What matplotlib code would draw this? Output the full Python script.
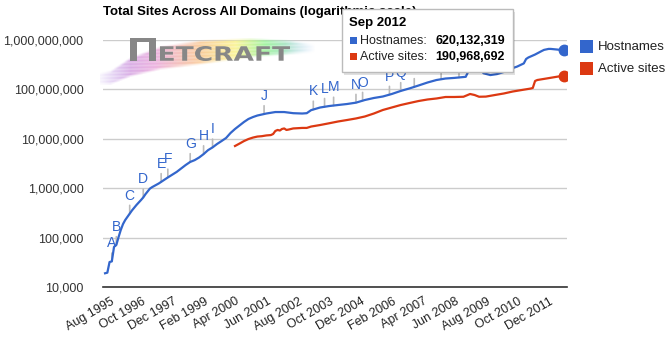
import numpy as np
import matplotlib
matplotlib.use('Agg')
import matplotlib.pyplot as plt
from matplotlib.textpath import TextPath
from matplotlib.font_manager import FontProperties
from matplotlib.patches import PathPatch, Rectangle
from matplotlib.transforms import Affine2D, ScaledTranslation

plt.rcParams['font.family'] = ['Liberation Sans', 'DejaVu Sans']

# ---- data ----
host_months = ['1995-08', '1995-09', '1995-10', '1995-11', '1995-12', '1996-01', '1996-02',
               '1996-03', '1996-04', '1996-05', '1996-06', '1996-08', '1996-10', '1996-12',
               '1997-01', '1997-02', '1997-04', '1997-05', '1997-08', '1997-12', '1998-04',
               '1998-08', '1998-10', '1998-12', '1999-02', '1999-04', '1999-06', '1999-08',
               '1999-10', '1999-12', '2000-02', '2000-04', '2000-06', '2000-08', '2000-10',
               '2000-12', '2001-02', '2001-04', '2001-08', '2001-12', '2002-04', '2002-08',
               '2002-12', '2003-02', '2003-04', '2003-08', '2003-12', '2004-04', '2004-08',
               '2004-12', '2005-04', '2005-08', '2005-12', '2006-04', '2006-08', '2006-12',
               '2007-04', '2007-08', '2007-12', '2008-04', '2008-08', '2008-12', '2009-01',
               '2009-02', '2009-04', '2009-08', '2009-09', '2009-12', '2010-03', '2010-06',
               '2010-10', '2010-12', '2011-03', '2011-04', '2011-05', '2011-08', '2011-11',
               '2011-12', '2012-02', '2012-03', '2012-09']
host_values = [18957, 19500, 32000, 33000, 65000, 71000, 103000,
               142000, 188000, 227000, 264000, 355000, 458000, 575000,
               650000, 760000, 980000, 1050000, 1250000, 1650000, 2140000,
               2950000, 3400000, 3700000, 4200000, 4900000, 5900000, 6700000,
               7850000, 9000000, 10400000, 13100000, 15800000, 18600000, 21900000,
               25200000, 27600000, 29600000, 32500000, 34800000, 34800000, 33000000,
               32500000, 33000000, 38000000, 43000000, 46000000, 48300000, 50600000,
               53900000, 61000000, 67000000, 71800000, 80700000, 93000000, 105000000,
               120000000, 138000000, 155000000, 166000000, 171000000, 178000000, 180000000,
               225000000, 232000000, 238000000, 212000000, 195000000, 204000000, 225000000,
               270000000, 290000000, 336000000, 412000000, 442000000, 508000000, 600000000,
               631000000, 660000000, 660000000, 620132319]

active_months = ['2000-06', '2000-08', '2000-10', '2000-12', '2001-02', '2001-04', '2001-06',
                 '2001-08', '2001-10', '2001-11', '2001-12', '2002-01', '2002-02', '2002-03',
                 '2002-04', '2002-05', '2002-06', '2002-08', '2002-12', '2003-02', '2003-04',
                 '2003-08', '2003-12', '2004-04', '2004-08', '2004-12', '2005-04', '2005-08',
                 '2005-12', '2006-04', '2006-08', '2006-12', '2007-04', '2007-08', '2007-12',
                 '2008-04', '2008-08', '2008-12', '2009-03', '2009-05', '2009-07', '2009-10',
                 '2010-02', '2010-06', '2010-10', '2011-02', '2011-06', '2011-07', '2011-08',
                 '2011-09', '2012-01', '2012-05', '2012-09']
active_values = [7150000, 8000000, 9000000, 9900000, 10600000, 11100000, 11300000,
                 11700000, 11900000, 12500000, 14400000, 15100000, 14700000, 15800000,
                 16200000, 15100000, 15400000, 16200000, 16600000, 16600000, 17700000,
                 19000000, 20600000, 22400000, 24000000, 25800000, 28300000, 32500000,
                 38300000, 43000000, 48300000, 53100000, 58200000, 62500000, 65500000,
                 70200000, 70200000, 71000000, 80700000, 77000000, 71000000, 71500000,
                 77000000, 82600000, 90600000, 97200000, 104000000, 107000000, 148000000,
                 155000000, 166000000, 178000000, 190968692]

event_letters = list('ABCDEFGHIJKLMNOPQRST')
event_months = ['1995-11', '1996-01', '1996-07', '1997-01', '1997-09', '1997-12', '1998-10',
                '1999-04', '1999-08', '2001-07', '2003-05', '2003-10', '2004-02', '2004-12',
                '2005-03', '2006-03', '2006-08', '2007-02', '2008-02', '2008-10']

tick_months = ['1995-08', '1996-10', '1997-12', '1999-02', '2000-04', '2001-06', '2002-08',
               '2003-10', '2004-12', '2006-02', '2007-04', '2008-06', '2009-08', '2010-10',
               '2011-12']
tick_labels = ['Aug 1995', 'Oct 1996', 'Dec 1997', 'Feb 1999', 'Apr 2000', 'Jun 2001',
               'Aug 2002', 'Oct 2003', 'Dec 2004', 'Feb 2006', 'Apr 2007', 'Jun 2008',
               'Aug 2009', 'Oct 2010', 'Dec 2011']
y_ticks = [1e4, 1e5, 1e6, 1e7, 1e8, 1e9]

series_names = ['Hostnames', 'Active sites']
BLUE = '#3366cc'
RED = '#dc3912'

W, H = 670, 345
fig = plt.figure(figsize=(W / 100, H / 100), dpi=100)
fig.patch.set_facecolor('white')
ax = fig.add_axes([103 / W, 1 - 287 / H, 464 / W, 247 / H])

hx = np.array(host_months, dtype='datetime64[M]')
axd = np.array(active_months, dtype='datetime64[M]')
ax.plot(hx, host_values, color=BLUE, lw=1.6, zorder=3)
ax.plot(axd, active_values, color=RED, lw=1.6, zorder=3)
ax.plot(hx[-1:], host_values[-1:], 'o', color=BLUE, ms=7.5, zorder=4)
ax.plot(axd[-1:], active_values[-1:], 'o', color=RED, ms=7.5, zorder=4)

ax.set_yscale('log')
ax.set_ylim(1e4, 1e9)
ax.set_yticks(y_ticks)
ax.set_yticklabels([f'{int(v):,}' for v in y_ticks])
ax.minorticks_off()
ax.set_xlim(np.datetime64('1995-07-04'), np.datetime64('2012-10-08'))
ax.set_xticks(np.array(tick_months, dtype='datetime64[M]'))
ax.set_xticklabels(tick_labels, rotation=30, ha='right', rotation_mode='anchor')
ax.tick_params(axis='both', length=0, labelsize=9, colors='#222222')
ax.tick_params(axis='y', pad=14, colors='#333333')
ax.tick_params(axis='x', pad=6)
for lab in ax.get_xticklabels():
    lab.set_transform(lab.get_transform() + ScaledTranslation(5 / 100, 0, fig.dpi_scale_trans))
ax.grid(axis='y', color='#cccccc', lw=1)
ax.set_axisbelow(True)
for s in ['top', 'left', 'right']:
    ax.spines[s].set_visible(False)
ax.spines['bottom'].set_color('#333333')
ax.spines['bottom'].set_linewidth(1.2)

# event flags on the hostnames line
ev = np.array(event_months, dtype='datetime64[M]')
ev_vals = 10 ** np.interp(ev.astype(int), hx.astype(int), np.log10(host_values))
for letter, d, v in zip(event_letters, ev, ev_vals):
    ax.annotate(letter, xy=(d, v), xytext=(0, 13), textcoords='offset points',
                ha='center', va='center', fontsize=10, color=BLUE, zorder=2,
                arrowprops=dict(arrowstyle='-', color='#bbbbbb', lw=1.2,
                                shrinkA=0, shrinkB=0))

# Netcraft logo (rainbow swoosh + wordmark)
lg = fig.add_axes([100 / W, 1 - 92 / H, 215 / W, 67 / H], zorder=3)
lg.set_axis_off()
lw_, lh_ = 215, 67
cols = np.arange(lw_)
rows = np.arange(lh_)[:, None]
ctrl = [0, 10, 30, 60, 100, 150, 190, 215]
top = np.interp(cols, ctrl, [47, 45, 32, 21, 15, 13, 15, 19])
bot = np.interp(cols, ctrl, [60, 60, 52, 45, 40, 33, 30, 28])
band = np.clip((rows - top) / 3, 0, 1) * np.clip((bot - rows) / 3, 0, 1)
streak = 0.82 + 0.18 * np.cos(rows * 1.9 + cols * 0.04)
fade = np.clip((cols + 5) / 35, 0, 1) * np.clip((lw_ - cols) / 30, 0, 1)
stops = [0, 55, 100, 135, 165, 215]
rgb = [[0.74, 0.92, 0.98, 0.98, 0.60, 0.68],
       [0.62, 0.66, 0.78, 0.95, 0.95, 0.80],
       [0.92, 0.86, 0.56, 0.55, 0.60, 0.98]]
img = np.zeros((lh_, lw_, 4))
for c in range(3):
    img[:, :, c] = np.interp(cols, stops, rgb[c])[None, :]
img[:, :, 3] = 0.95 * band * streak * fade
lg.imshow(img, extent=(0, lw_, lh_, 0), aspect='auto', interpolation='bilinear')
lg.set_xlim(0, lw_)
lg.set_ylim(lh_, 0)
fp = FontProperties(family='DejaVu Sans', weight='bold')


def word(s, x0, x1, ytop, ybot):
    tp = TextPath((0, 0), s, size=10, prop=fp)
    bb = tp.get_extents()
    tr = (Affine2D().translate(-bb.x0, -bb.y0)
          .scale((x1 - x0) / bb.width, -(ybot - ytop) / bb.height).translate(x0, ybot))
    lg.add_patch(PathPatch(tp, transform=tr + lg.transData, color='#878787', lw=0))


word('Π', 30, 56, 13, 36)
word('ETCRAFT', 60, 190, 21, 36)

# title
fig.text(103 / W, 1 - 12 / H, 'Total Sites Across All Domains (logarithmic scale)',
         fontsize=9.5, fontweight='bold', va='center', color='#000000')

# legend
for i, (name, col) in enumerate(zip(series_names, [BLUE, RED])):
    y0 = 40 + i * 22
    fig.add_artist(Rectangle((580 / W, 1 - (y0 + 13) / H), 13 / W, 13 / H,
                             transform=fig.transFigure, color=col, lw=0))
    fig.text(598 / W, 1 - (y0 + 7) / H, name, fontsize=9.5, va='center', color='#222222')

# tooltip
bx0, by0, bx1, by1 = 342, 9, 513, 72
fig.add_artist(Rectangle(((bx0 + 2) / W, 1 - (by1 + 3) / H), (bx1 - bx0) / W, (by1 - by0) / H,
                         transform=fig.transFigure, facecolor='#000000', alpha=0.12, lw=0, zorder=8))
fig.add_artist(Rectangle((bx0 / W, 1 - by1 / H), (bx1 - bx0) / W, (by1 - by0) / H,
                         transform=fig.transFigure, facecolor='white', edgecolor='#bbbbbb',
                         lw=1, zorder=9))
fig.text(349 / W, 1 - 23 / H, 'Sep 2012', fontsize=9.5, fontweight='bold', va='center', zorder=10)
last_vals = [host_values[-1], active_values[-1]]
for i, (name, col, v) in enumerate(zip(series_names, [BLUE, RED], last_vals)):
    yc = 41 + i * 16
    fig.add_artist(Rectangle((350 / W, 1 - (yc + 3) / H), 7 / W, 7 / H,
                             transform=fig.transFigure, color=col, lw=0, zorder=10))
    fig.text(360 / W, 1 - yc / H, name + ':', fontsize=9, va='center',
             color='#222222', zorder=10)
    fig.text(505 / W, 1 - yc / H, f'{v:,}', fontsize=9, fontweight='bold',
             ha='right', va='center', color='#000000', zorder=10)

fig.savefig('out.png', dpi=100)
